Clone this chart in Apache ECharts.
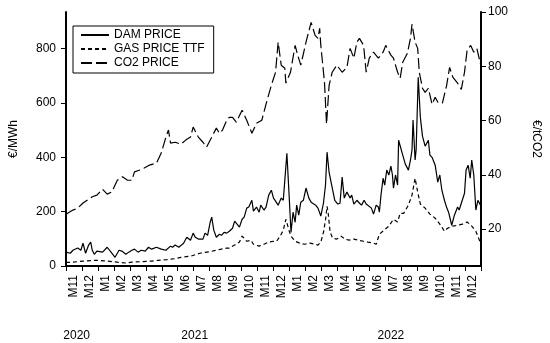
<!DOCTYPE html>
<html><head><meta charset="utf-8">
<script src="https://cdn.jsdelivr.net/npm/echarts@6/dist/echarts.min.js"></script>
<style>html,body{margin:0;padding:0;background:#fff}#c{width:550px;height:343px}</style>
</head><body><div id="c"></div>
<script>
const monthLabels = ['M11','M12','M1','M2','M3','M4','M5','M6','M7','M8','M9','M10','M11','M12','M1','M2','M3','M4','M5','M6','M7','M8','M9','M10','M11','M12'];
const yearLabels = ['2020','2021','2022'];
const yearLabelDates = ['2020-11-21','2021-07-03','2022-07-12'];
const leftTicks = [0,200,400,600,800];
const rightTicks = [20,40,60,80,100];
const seriesNames = ['DAM PRICE','GAS PRICE TTF','CO2 PRICE'];

const damDates = ['2020-11-01','2020-11-09','2020-11-14','2020-11-23','2020-11-29','2020-12-03','2020-12-08','2020-12-14','2020-12-18','2020-12-21','2020-12-25','2020-12-30','2021-01-10','2021-01-19','2021-01-28','2021-02-03','2021-02-10','2021-02-15','2021-02-22','2021-02-27','2021-03-05','2021-03-10','2021-03-17','2021-03-23','2021-03-31','2021-04-06','2021-04-12','2021-04-21','2021-04-30','2021-05-09','2021-05-18','2021-05-22','2021-05-27','2021-06-03','2021-06-08','2021-06-12','2021-06-18','2021-06-21','2021-06-25','2021-06-30','2021-07-04','2021-07-10','2021-07-13','2021-07-19','2021-07-23','2021-07-28','2021-08-02','2021-08-05','2021-08-09','2021-08-14','2021-08-20','2021-08-24','2021-08-29','2021-09-03','2021-09-08','2021-09-14','2021-09-18','2021-09-21','2021-09-27','2021-10-02','2021-10-06','2021-10-11','2021-10-15','2021-10-21','2021-10-24','2021-10-30','2021-11-04','2021-11-07','2021-11-13','2021-11-17','2021-11-22','2021-11-27','2021-12-01','2021-12-05','2021-12-10','2021-12-16','2021-12-20','2021-12-23','2021-12-27','2021-12-31','2022-01-04','2022-01-08','2022-01-12','2022-01-15','2022-01-19','2022-01-23','2022-01-28','2022-02-02','2022-02-07','2022-02-11','2022-02-14','2022-02-19','2022-02-23','2022-02-28','2022-03-05','2022-03-09','2022-03-12','2022-03-16','2022-03-21','2022-03-27','2022-04-02','2022-04-06','2022-04-10','2022-04-14','2022-04-19','2022-04-25','2022-04-28','2022-05-02','2022-05-08','2022-05-13','2022-05-17','2022-05-22','2022-05-26','2022-05-29','2022-06-05','2022-06-09','2022-06-14','2022-06-18','2022-06-20','2022-06-23','2022-06-27','2022-06-30','2022-07-04','2022-07-08','2022-07-12','2022-07-15','2022-07-17','2022-07-21','2022-07-25','2022-07-27','2022-07-30','2022-08-04','2022-08-09','2022-08-15','2022-08-19','2022-08-22','2022-08-24','2022-08-28','2022-08-30','2022-09-03','2022-09-07','2022-09-11','2022-09-16','2022-09-22','2022-09-25','2022-09-29','2022-10-05','2022-10-10','2022-10-14','2022-10-18','2022-10-23','2022-10-27','2022-10-31','2022-11-06','2022-11-11','2022-11-17','2022-11-20','2022-11-24','2022-11-30','2022-12-03','2022-12-07','2022-12-11','2022-12-14','2022-12-18','2022-12-22','2022-12-26','2022-12-31'];
const damPrice = [51,47,58,66,58,84,47,77,88,58,43,55,51,69,47,32,58,55,43,51,58,62,51,58,55,69,62,69,62,58,73,69,77,69,77,84,106,113,95,121,106,99,106,99,121,113,161,180,132,106,117,113,124,121,128,139,165,161,143,172,180,213,217,242,202,217,198,224,206,217,261,279,250,239,224,250,242,316,415,272,124,198,161,224,187,235,242,287,250,235,228,224,213,184,231,298,419,345,298,242,228,231,327,250,272,250,261,228,242,231,224,242,228,224,213,191,224,217,198,261,323,298,353,335,368,335,287,335,298,463,456,408,375,353,390,427,537,390,427,695,548,478,441,463,408,400,371,309,335,279,242,217,198,150,187,217,206,231,268,353,371,323,390,335,206,242,224];

const gasDates = ['2020-11-01','2020-11-14','2020-12-03','2020-12-21','2020-12-30','2021-01-19','2021-02-07','2021-02-21','2021-03-05','2021-03-23','2021-04-12','2021-04-24','2021-05-09','2021-05-27','2021-06-07','2021-06-25','2021-07-13','2021-08-02','2021-08-14','2021-08-24','2021-09-03','2021-09-08','2021-09-18','2021-09-27','2021-10-02','2021-10-06','2021-10-11','2021-10-19','2021-10-24','2021-11-04','2021-11-13','2021-11-22','2021-12-01','2021-12-07','2021-12-14','2021-12-20','2021-12-25','2021-12-27','2021-12-31','2022-01-04','2022-01-12','2022-01-21','2022-01-30','2022-02-09','2022-02-18','2022-02-23','2022-02-28','2022-03-05','2022-03-09','2022-03-12','2022-03-14','2022-03-18','2022-03-23','2022-03-31','2022-04-08','2022-04-15','2022-04-23','2022-05-02','2022-05-11','2022-05-21','2022-05-29','2022-06-09','2022-06-14','2022-06-20','2022-06-29','2022-07-08','2022-07-17','2022-07-25','2022-07-30','2022-08-06','2022-08-15','2022-08-22','2022-08-28','2022-09-02','2022-09-07','2022-09-16','2022-09-25','2022-10-05','2022-10-14','2022-10-23','2022-10-29','2022-11-08','2022-11-17','2022-11-26','2022-12-05','2022-12-14','2022-12-22','2022-12-31'];
const gasPrice = [13,14,18,20,21,18,14,11,14,16,18,21,23,27,32,36,47,53,58,62,66,66,77,88,110,102,91,95,80,73,80,88,91,91,110,132,172,176,132,110,91,84,80,84,80,77,88,124,169,220,198,124,102,99,110,99,95,99,95,91,88,84,80,117,132,147,172,162,194,194,224,261,323,272,228,213,191,176,154,128,139,147,150,154,162,147,128,85];

const co2Dates = ['2020-11-01','2020-11-14','2020-11-23','2020-12-03','2020-12-12','2020-12-21','2020-12-30','2021-01-10','2021-01-19','2021-01-28','2021-02-07','2021-02-16','2021-02-25','2021-03-05','2021-03-10','2021-03-19','2021-03-29','2021-04-08','2021-04-21','2021-04-30','2021-05-09','2021-05-14','2021-05-18','2021-05-27','2021-06-07','2021-06-16','2021-06-25','2021-06-30','2021-07-10','2021-07-19','2021-07-26','2021-08-05','2021-08-14','2021-08-20','2021-08-26','2021-09-03','2021-09-08','2021-09-14','2021-09-21','2021-10-02','2021-10-11','2021-10-21','2021-10-30','2021-11-09','2021-11-18','2021-11-27','2021-12-05','2021-12-10','2021-12-16','2021-12-23','2021-12-25','2022-01-03','2022-01-12','2022-01-17','2022-01-23','2022-02-02','2022-02-11','2022-02-18','2022-02-23','2022-02-26','2022-02-28','2022-03-07','2022-03-11','2022-03-16','2022-03-22','2022-03-31','2022-04-10','2022-04-19','2022-04-25','2022-05-02','2022-05-08','2022-05-13','2022-05-21','2022-05-26','2022-06-01','2022-06-09','2022-06-18','2022-06-27','2022-07-02','2022-07-12','2022-07-17','2022-07-25','2022-07-30','2022-08-04','2022-08-13','2022-08-19','2022-08-22','2022-08-28','2022-09-02','2022-09-05','2022-09-11','2022-09-16','2022-09-22','2022-09-29','2022-10-05','2022-10-10','2022-10-19','2022-10-27','2022-11-02','2022-11-08','2022-11-17','2022-11-24','2022-11-30','2022-12-05','2022-12-12','2022-12-18','2022-12-24','2022-12-31'];
const co2Price = [25.5,27.0,27.7,29.6,30.7,31.9,32.5,34.7,32.9,33.7,38.0,39.3,38.0,38.0,41.1,41.7,42.5,43.6,44.3,48.0,53.9,56.5,51.7,52.0,51.3,52.8,53.9,57.6,53.9,52.0,50.2,53.9,57.2,55.3,56.5,60.1,61.2,61.2,59.4,63.8,60.1,55.3,59.0,60.1,66.8,73.0,77.8,88.9,80.4,79.3,73.8,77.8,87.7,84.1,80.4,88.9,96.2,91.4,90.3,94.0,87.7,74.1,58.7,73.0,77.8,80.4,77.8,79.6,86.6,83.0,88.9,90.3,87.7,77.8,83.0,85.2,83.0,85.2,87.7,84.1,83.0,77.8,75.6,81.5,84.8,90.3,95.5,88.9,86.6,77.8,71.9,70.4,71.9,66.0,68.6,66.8,66.4,72.7,79.6,76.0,73.8,71.5,77.8,85.9,87.7,85.2,86.6,80.8];

// month position on the axis: 0 = start of Nov 2020, one unit per month
function toT(d) {
  const p = d.split('-').map(Number);
  const mi = (p[0] - 2020) * 12 + (p[1] - 11);
  const dim = new Date(p[0], p[1], 0).getDate();
  return mi + (p[2] - 1) / dim;
}
function pairs(dates, vals) {
  const n = Math.min(dates.length, vals.length);
  const out = [];
  for (let i = 0; i < n; i++) out.push([toT(dates[i]), vals[i]]);
  return out;
}

const FONT = 'Liberation Sans, Arial, sans-serif';
const txt = {color: '#000', fontFamily: FONT, fontSize: 12};
const monthTicks = monthLabels.map((_, i) => i).concat([monthLabels.length]);
const monthCenters = monthLabels.map((_, i) => i + 0.5);
const yearPos = yearLabelDates.map(toT);

const chart = echarts.init(document.getElementById('c'), null, {renderer: 'canvas'});
chart.setOption({
  animation: false,
  backgroundColor: '#fff',
  grid: {left: 62, right: 62, top: 12, bottom: 77, containLabel: false},
  legend: {
    orient: 'vertical', left: 73, top: 26,
    itemWidth: 28, itemHeight: 13, itemGap: 2,
    padding: [3, 9, 4, 7],
    borderColor: '#000', borderWidth: 1,
    textStyle: txt,
    itemStyle: {opacity: 0, borderWidth: 0},
    data: seriesNames
  },
  xAxis: [{
    type: 'value', min: 0, max: monthLabels.length, position: 'bottom',
    axisLine: {show: true, onZero: false, lineStyle: {color: '#000', width: 2}},
    axisTick: {show: true, customValues: monthTicks, length: 5, lineStyle: {color: '#000', width: 1}},
    axisLabel: Object.assign({customValues: monthCenters, rotate: 90, margin: 9,
      formatter: v => monthLabels[Math.floor(v)] || ''}, txt),
    splitLine: {show: false}
  }, {
    type: 'value', min: 0, max: monthLabels.length, position: 'bottom', offset: 58,
    axisLine: {show: false, onZero: false}, axisTick: {show: false},
    axisLabel: Object.assign({customValues: yearPos, margin: 6,
      formatter: v => { let b = 0, bd = 1e9; yearPos.forEach((p, i) => { if (Math.abs(p - v) < bd) { bd = Math.abs(p - v); b = i; } }); return yearLabels[b]; }}, txt),
    splitLine: {show: false}
  }],
  yAxis: [{
    type: 'value', min: 0, max: 935, position: 'left',
    axisLine: {show: true, onZero: false, lineStyle: {color: '#000', width: 2}},
    axisTick: {show: true, customValues: leftTicks, length: 5, lineStyle: {color: '#000', width: 1}},
    axisLabel: Object.assign({customValues: leftTicks, margin: 10}, txt),
    splitLine: {show: false},
    name: '€/MWh', nameLocation: 'middle', nameGap: 46, nameTextStyle: txt
  }, {
    type: 'value', min: 6.4, max: 100, position: 'right',
    axisLine: {show: true, onZero: false, lineStyle: {color: '#000', width: 2}},
    axisTick: {show: true, customValues: rightTicks, length: 5, lineStyle: {color: '#000', width: 1}},
    axisLabel: Object.assign({customValues: rightTicks, margin: 7}, txt),
    splitLine: {show: false},
    name: '€/tCO2', nameLocation: 'middle', nameRotate: -90, nameGap: 49, nameTextStyle: txt
  }],
  series: [{
    name: seriesNames[0], type: 'line', xAxisIndex: 0, yAxisIndex: 0,
    data: pairs(damDates, damPrice), symbol: 'none', showSymbol: false,
    lineStyle: {color: '#000', width: 1.2, type: 'solid'}, itemStyle: {color: '#000'}
  }, {
    name: seriesNames[1], type: 'line', xAxisIndex: 0, yAxisIndex: 0,
    data: pairs(gasDates, gasPrice), symbol: 'none', showSymbol: false,
    lineStyle: {color: '#000', width: 1.2, type: [4, 3]}, itemStyle: {color: '#000'}
  }, {
    name: seriesNames[2], type: 'line', xAxisIndex: 0, yAxisIndex: 1,
    data: pairs(co2Dates, co2Price), symbol: 'none', showSymbol: false,
    lineStyle: {color: '#000', width: 1.2, type: [11, 4]}, itemStyle: {color: '#000'}
  }]
});
</script>
</body></html>
